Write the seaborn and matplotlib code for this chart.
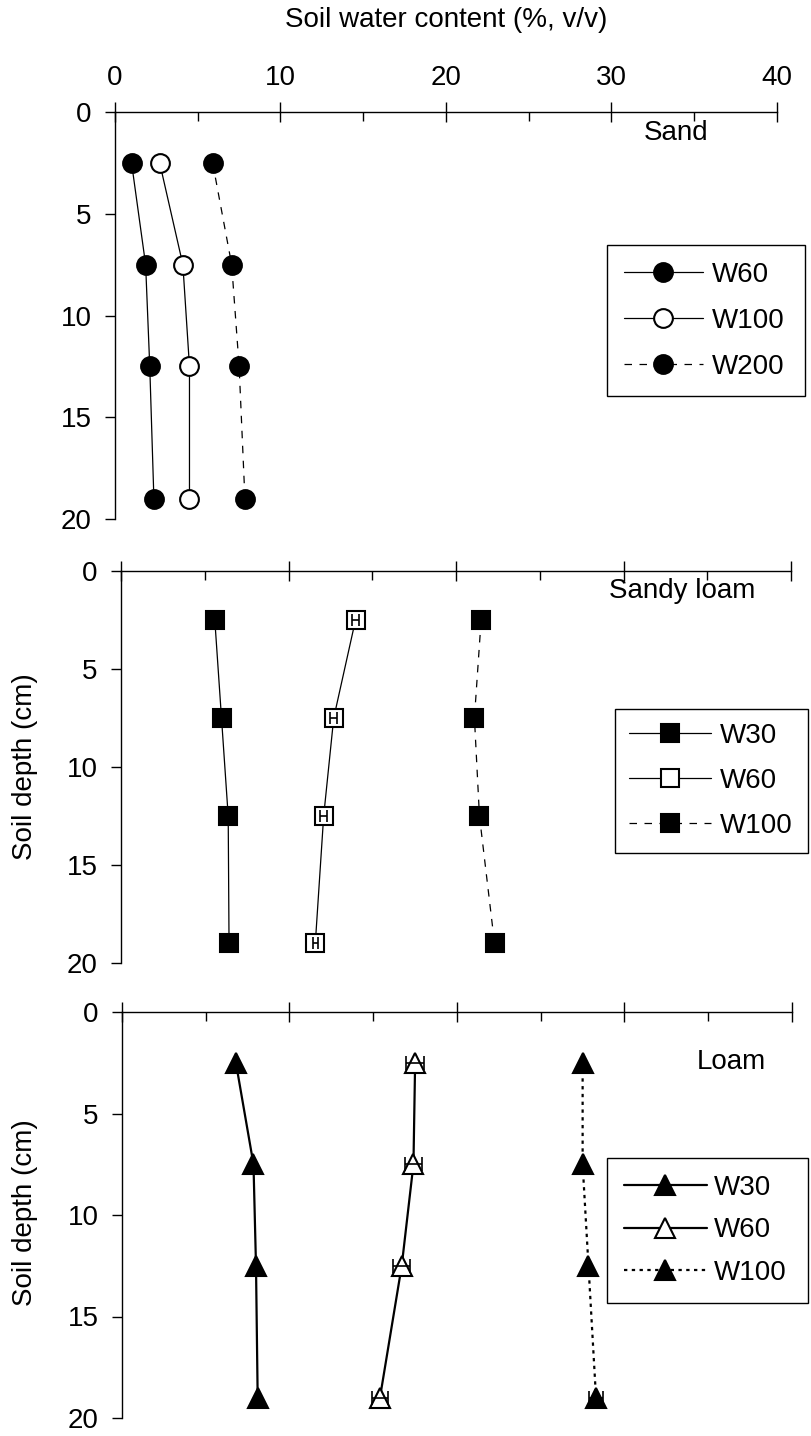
import numpy as np
import pandas as pd
import matplotlib
matplotlib.use("Agg")
import matplotlib.pyplot as plt
import seaborn as sns
from matplotlib.ticker import MultipleLocator

sns.set_theme(style="white")
plt.rcParams['font.family'] = ['Liberation Sans', 'DejaVu Sans']
plt.rcParams['text.color'] = 'black'
plt.rcParams['axes.labelcolor'] = 'black'
plt.rcParams['xtick.color'] = 'black'
plt.rcParams['ytick.color'] = 'black'

# ---------------- data ----------------
depth = [2.5, 7.5, 12.5, 19]

sand_w60 = [1.0, 1.85, 2.1, 2.35]
sand_w100 = [2.7, 4.1, 4.5, 4.5]
sand_w200 = [5.9, 7.05, 7.5, 7.85]

sl_w30 = [5.6, 6.0, 6.4, 6.45]
sl_w60 = [14.0, 12.7, 12.1, 11.6]
sl_w60_err = [0.2, 0.2, 0.2, 0.15]
sl_w100 = [21.5, 21.1, 21.4, 22.3]

loam_w30 = [6.8, 7.85, 8.0, 8.1]
loam_w60 = [17.5, 17.4, 16.7, 15.4]
loam_w60_err = [0.55, 0.5, 0.5, 0.5]
loam_w100 = [27.5, 27.5, 27.85, 28.3]
loam_w100_err = [0.0, 0.0, 0.0, 0.4]

x_ticks = [0, 10, 20, 30, 40]
y_ticks = [0, 5, 10, 15, 20]

W, H = 812, 1436
fig = plt.figure(figsize=(W / 100, H / 100), dpi=100)


def fbox(l, t, r, b):
    return [l / W, 1 - b / H, (r - l) / W, (b - t) / H]


ax1 = fig.add_axes(fbox(115, 112, 777, 519))
ax2 = fig.add_axes(fbox(121, 571, 791, 963))
ax3 = fig.add_axes(fbox(122, 1012, 792, 1418))
axes = [ax1, ax2, ax3]

FS = 20


def series(ax, x, label, marker, mfc, ls, lw=0.9, ms=13.5, mew=1.5):
    d = pd.DataFrame({"x": x, "depth": depth})
    sns.lineplot(data=d, x="x", y="depth", ax=ax, sort=False, orient="y",
                 color="black", linewidth=lw, linestyle=ls, marker=marker,
                 markersize=ms, markerfacecolor=mfc, markeredgecolor="black",
                 markeredgewidth=mew, label=label, zorder=2)


# Sand
series(ax1, sand_w60, "W60", "o", "black", "-")
series(ax1, sand_w100, "W100", "o", "white", "-")
series(ax1, sand_w200, "W200", "o", "black", (0, (6, 6)))

# Sandy loam
series(ax2, sl_w30, "W30", "s", "black", "-", ms=13)
series(ax2, sl_w60, "W60", "s", "white", "-", ms=13)
series(ax2, sl_w100, "W100", "s", "black", (0, (6, 6)), ms=13)
ax2.errorbar(sl_w60, depth, xerr=sl_w60_err, fmt="none", ecolor="black",
             elinewidth=1.2, capsize=4, capthick=1.2, zorder=3)

# Loam
series(ax3, loam_w30, "W30", "^", "black", "-", lw=1.6, ms=15)
series(ax3, loam_w60, "W60", "^", "white", "-", lw=1.6, ms=15)
series(ax3, loam_w100, "W100", "^", "black", (0, (1.5, 2)), lw=1.6, ms=15)
ax3.errorbar(loam_w60, depth, xerr=loam_w60_err, fmt="none", ecolor="black",
             elinewidth=1.2, capsize=5, capthick=1.2, zorder=3)
ax3.errorbar(loam_w100, depth, xerr=loam_w100_err, fmt="none", ecolor="black",
             elinewidth=1.2, capsize=5, capthick=1.2, zorder=3)

for i, ax in enumerate(axes):
    ax.set_xlim(x_ticks[0], x_ticks[-1])
    ax.set_ylim(y_ticks[-1], y_ticks[0])
    ax.set_xticks(x_ticks)
    ax.set_yticks(y_ticks)
    ax.xaxis.set_minor_locator(MultipleLocator(5))
    ax.xaxis.tick_top()
    ax.set_xlabel("")
    ax.set_ylabel("")
    ax.grid(False)
    ax.set_facecolor("none")
    for s in ["right", "bottom"]:
        ax.spines[s].set_visible(False)
    for s in ["left", "top"]:
        ax.spines[s].set_color("black")
        ax.spines[s].set_linewidth(1.0)
    ax.tick_params(axis="x", which="major", direction="inout", length=14,
                   width=1, top=True, bottom=False, labeltop=(i == 0),
                   labelbottom=False, labelsize=FS, pad=8)
    ax.tick_params(axis="x", which="minor", direction="in", length=6.5,
                   width=1, top=True, bottom=False)
    ax.tick_params(axis="y", which="major", direction="out", length=7,
                   width=1, left=True, labelsize=FS, pad=10)
    leg = ax.get_legend()
    if leg is not None:
        leg.remove()

legend_boxes = [(607, 245, 805, 392), (615, 709, 808, 849), (607, 1158, 808, 1300)]
spacings = [0.72, 0.68, 0.6]
pads = [0.6, 0.5, 0.6]
hlens = [2.85, 2.95, 3.0]
htpads = [0.32, 0.32, 0.25]
for ax, (l, t, r, b), sp, bp, hl, hp in zip(axes, legend_boxes, spacings,
                                             pads, hlens, htpads):
    lg = ax.legend(loc="upper left", bbox_to_anchor=fbox(l, t, r, b),
                   bbox_transform=fig.transFigure, mode="expand",
                   frameon=True, fancybox=False, edgecolor="black",
                   framealpha=1, fontsize=FS, handlelength=hl,
                   handletextpad=hp, borderpad=bp, borderaxespad=0,
                   labelspacing=sp)
    lg.get_frame().set_linewidth(1.0)

fig.text(446 / W, 1 - 20 / H, "Soil water content (%, v/v)", ha="center",
         va="center", fontsize=FS)
fig.text(676 / W, 1 - 133 / H, "Sand", ha="center", va="center", fontsize=FS)
fig.text(682 / W, 1 - 591 / H, "Sandy loam", ha="center", va="center", fontsize=FS)
fig.text(731 / W, 1 - 1062 / H, "Loam", ha="center", va="center", fontsize=FS)
fig.text(25 / W, 1 - 767 / H, "Soil depth (cm)", ha="center", va="center",
         rotation=90, fontsize=FS)
fig.text(25 / W, 1 - 1213 / H, "Soil depth (cm)", ha="center", va="center",
         rotation=90, fontsize=FS)

fig.savefig("out.png", dpi=100, facecolor="white")
